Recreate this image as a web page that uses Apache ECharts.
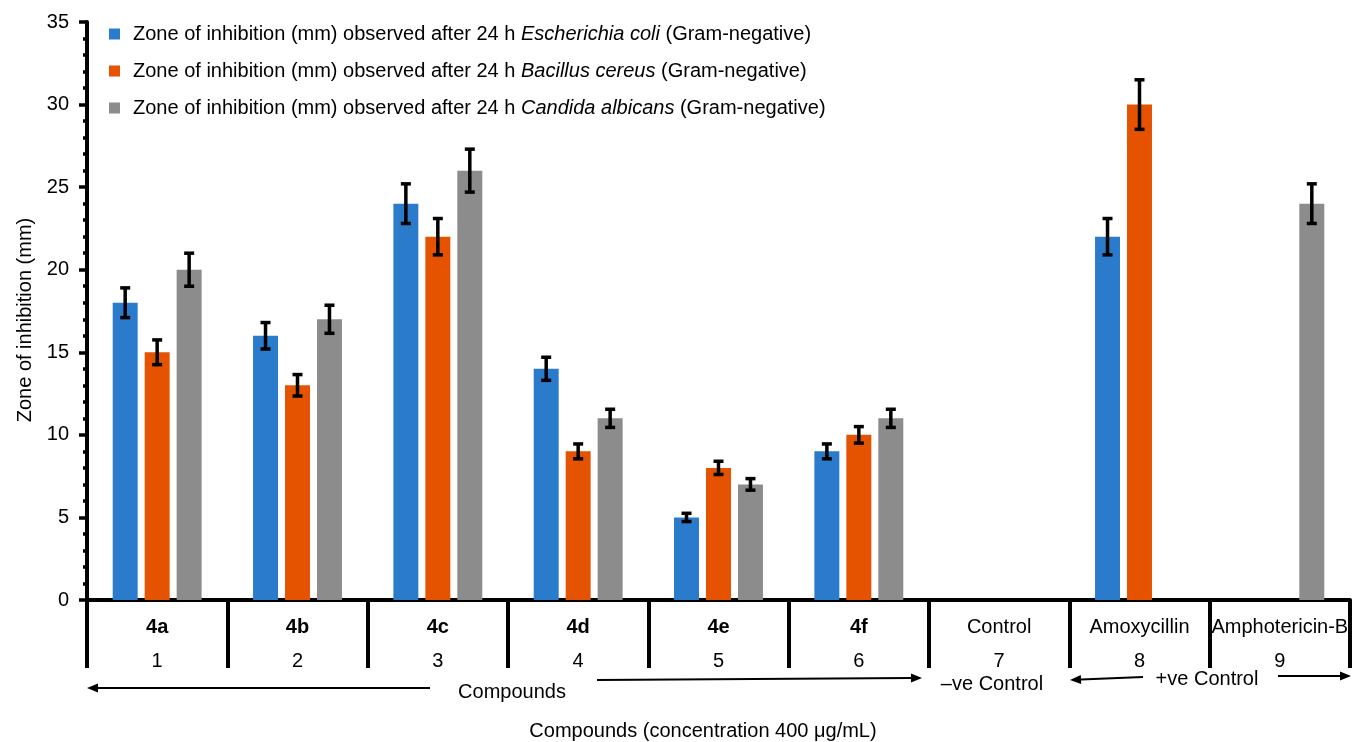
<!DOCTYPE html>
<html>
<head>
<meta charset="utf-8">
<script src="https://cdn.jsdelivr.net/npm/echarts@6/dist/echarts.min.js"></script>
<style>
  html, body { margin: 0; padding: 0; background: #fff; }
  #chart { width: 1353px; height: 742px; }
</style>
</head>
<body>
<div id="chart"></div>
<script>
// Compound / control labels and their sample numbers
const compoundNames = ['4a', '4b', '4c', '4d', '4e', '4f', 'Control', 'Amoxycillin', 'Amphotericin-B'];
const boldNames = ['4a', '4b', '4c', '4d', '4e', '4f'];
const sampleNumbers = ['1', '2', '3', '4', '5', '6', '7', '8', '9'];

// Test organisms (legend)
const organisms = ['Escherichia coli', 'Bacillus cereus', 'Candida albicans'];

// Zone of inhibition (mm) after 24 h
const ecoliZone   = [18, 16, 24, 14, 5, 9, null, 22, null];
const bcereusZone = [15, 13, 22, 9, 8, 10, null, 30, null];
const calbicZone  = [20, 17, 26, 11, 7, 11, null, null, 24];

// Error (± mm)
const ecoliErr   = [0.9, 0.8, 1.2, 0.7, 0.25, 0.45, null, 1.1, null];
const bcereusErr = [0.75, 0.65, 1.1, 0.45, 0.4, 0.5, null, 1.5, null];
const calbicErr  = [1.0, 0.85, 1.3, 0.55, 0.35, 0.55, null, null, 1.2];

// Y axis ticks
const yMin = 0, yMax = 35, yStep = 5;

const colors = ['#2a7bcb', '#e65300', '#8c8c8c'];
const FONT = '"Liberation Sans", Arial, Helvetica, sans-serif';
const BAR_FRAC = 0.178;   // bar width as a fraction of the category band
const GAP_FRAC = 0.28;    // gap between bars as a fraction of the bar width

const zones = [ecoliZone, bcereusZone, calbicZone];
const errs = [ecoliErr, bcereusErr, calbicErr];
const seriesNames = organisms.map(o => 'Zone of inhibition (mm) observed after 24 h ' + o + ' (Gram-negative)');

const chart = echarts.init(document.getElementById('chart'), null, { renderer: 'canvas' });

const barSeries = zones.map((z, i) => ({
  name: seriesNames[i],
  type: 'bar',
  data: z.map(v => (v == null ? '-' : v)),
  barWidth: (BAR_FRAC * 100) + '%',
  barGap: (GAP_FRAC * 100) + '%',
  itemStyle: { color: colors[i] },
  emphasis: { disabled: true },
  z: 2
}));

const errData = [];
zones.forEach((z, s) => {
  z.forEach((v, c) => {
    if (v != null && errs[s][c] != null) errData.push([c, v, errs[s][c], s]);
  });
});

const errorSeries = {
  type: 'custom',
  name: 'error',
  data: errData,
  z: 5,
  silent: true,
  encode: { x: 0, y: 1 },
  renderItem: function (params, api) {
    const c = api.value(0), v = api.value(1), e = api.value(2), s = api.value(3);
    const band = api.size([1, 0])[0];
    const bw = band * BAR_FRAC;
    const off = (s - 1) * (bw * (1 + GAP_FRAC));
    const hi = api.coord([c, v + e]);
    const lo = api.coord([c, v - e]);
    const x = hi[0] + off;
    const cap = 5;
    const st = { stroke: '#000', lineWidth: 3.5 };
    return {
      type: 'group',
      children: [
        { type: 'line', shape: { x1: x, y1: hi[1], x2: x, y2: lo[1] }, style: st },
        { type: 'line', shape: { x1: x - cap, y1: hi[1], x2: x + cap, y2: hi[1] }, style: st },
        { type: 'line', shape: { x1: x - cap, y1: lo[1], x2: x + cap, y2: lo[1] }, style: st }
      ]
    };
  }
};

// Arrow helper: line with a filled head at (x2, y2)
function arrow(x1, y1, x2, y2) {
  const ang = Math.atan2(y2 - y1, x2 - x1);
  const L = 11, W = 4.5;
  const bx = x2 - L * Math.cos(ang), by = y2 - L * Math.sin(ang);
  const px = -Math.sin(ang) * W, py = Math.cos(ang) * W;
  return [
    { type: 'line', shape: { x1: x1, y1: y1, x2: bx, y2: by }, style: { stroke: '#000', lineWidth: 2 } },
    { type: 'polygon', shape: { points: [[x2, y2], [bx + px, by + py], [bx - px, by - py]] }, style: { fill: '#000' } }
  ];
}

const textStyleBase = { fill: '#000', font: '20px ' + FONT, textAlign: 'center', textVerticalAlign: 'middle' };

const graphics = [].concat(
  arrow(430, 688, 87, 688),
  [{ type: 'text', style: Object.assign({ text: 'Compounds', x: 512, y: 692 }, textStyleBase) }],
  arrow(597, 680, 922, 678),
  [{ type: 'text', style: Object.assign({ text: '\u2013ve Control', x: 992, y: 684 }, textStyleBase) }],
  arrow(1143, 677, 1070, 680),
  [{ type: 'text', style: Object.assign({ text: '+ve Control', x: 1207, y: 679 }, textStyleBase) }],
  arrow(1278, 676, 1351, 676),
  [{ type: 'text', style: Object.assign({ text: 'Compounds (concentration 400 \u03bcg/mL)', x: 703, y: 731 }, textStyleBase) }]
);

chart.setOption({
  animation: false,
  backgroundColor: '#fff',
  textStyle: { fontFamily: FONT, color: '#000' },
  grid: { left: 87, right: 3, top: 22, bottom: 142, containLabel: false },
  legend: {
    show: true,
    orient: 'vertical',
    left: 104,
    top: 18,
    itemWidth: 11,
    itemHeight: 11,
    itemGap: 15,
    icon: 'rect',
    data: seriesNames,
    selectedMode: false,
    formatter: function (name) {
      const i = seriesNames.indexOf(name);
      return '{s|}{n|Zone of inhibition (mm) observed after 24 h }{i|' + organisms[i] + '}{n| (Gram-negative)}';
    },
    textStyle: {
      fontFamily: FONT,
      fontSize: 20,
      color: '#000',
      lineHeight: 22,
      rich: {
        s: { width: 8 },
        n: { fontFamily: FONT, fontSize: 20, color: '#000', lineHeight: 22 },
        i: { fontFamily: FONT, fontSize: 20, color: '#000', fontStyle: 'italic', lineHeight: 22 }
      }
    }
  },
  xAxis: {
    type: 'category',
    data: sampleNumbers,
    boundaryGap: true,
    axisLine: { show: true, lineStyle: { color: '#000', width: 4 } },
    axisTick: { show: true, interval: 0, alignWithLabel: false, length: 68, lineStyle: { color: '#000', width: 4 } },
    axisLabel: {
      interval: 0,
      margin: 10,
      formatter: function (value, idx) {
        const name = compoundNames[idx];
        const style = boldNames.indexOf(name) >= 0 ? 'b' : 'r';
        return '{' + style + '|' + name + '}\n{n|' + value + '}';
      },
      rich: {
        b: { fontFamily: FONT, fontSize: 20, fontWeight: 'bold', color: '#000', lineHeight: 34 },
        r: { fontFamily: FONT, fontSize: 20, color: '#000', lineHeight: 34 },
        n: { fontFamily: FONT, fontSize: 20, color: '#000', lineHeight: 34 }
      }
    },
    splitLine: { show: false }
  },
  yAxis: {
    type: 'value',
    min: yMin,
    max: yMax,
    interval: yStep,
    name: 'Zone of inhibition (mm)',
    nameLocation: 'middle',
    nameGap: 52,
    nameTextStyle: { fontFamily: FONT, fontSize: 20, color: '#000', padding: [0, 18, 0, 0] },
    axisLine: { show: true, lineStyle: { color: '#000', width: 4 } },
    axisTick: { show: true, length: 8, lineStyle: { color: '#000', width: 3.5 } },
    minorTick: { show: true, splitNumber: 5, length: 4, lineStyle: { color: '#000', width: 3.5 } },
    axisLabel: { margin: 18, fontFamily: FONT, fontSize: 20, color: '#000' },
    splitLine: { show: false },
    minorSplitLine: { show: false }
  },
  series: barSeries.concat([errorSeries]),
  graphic: graphics
});
</script>
</body>
</html>
